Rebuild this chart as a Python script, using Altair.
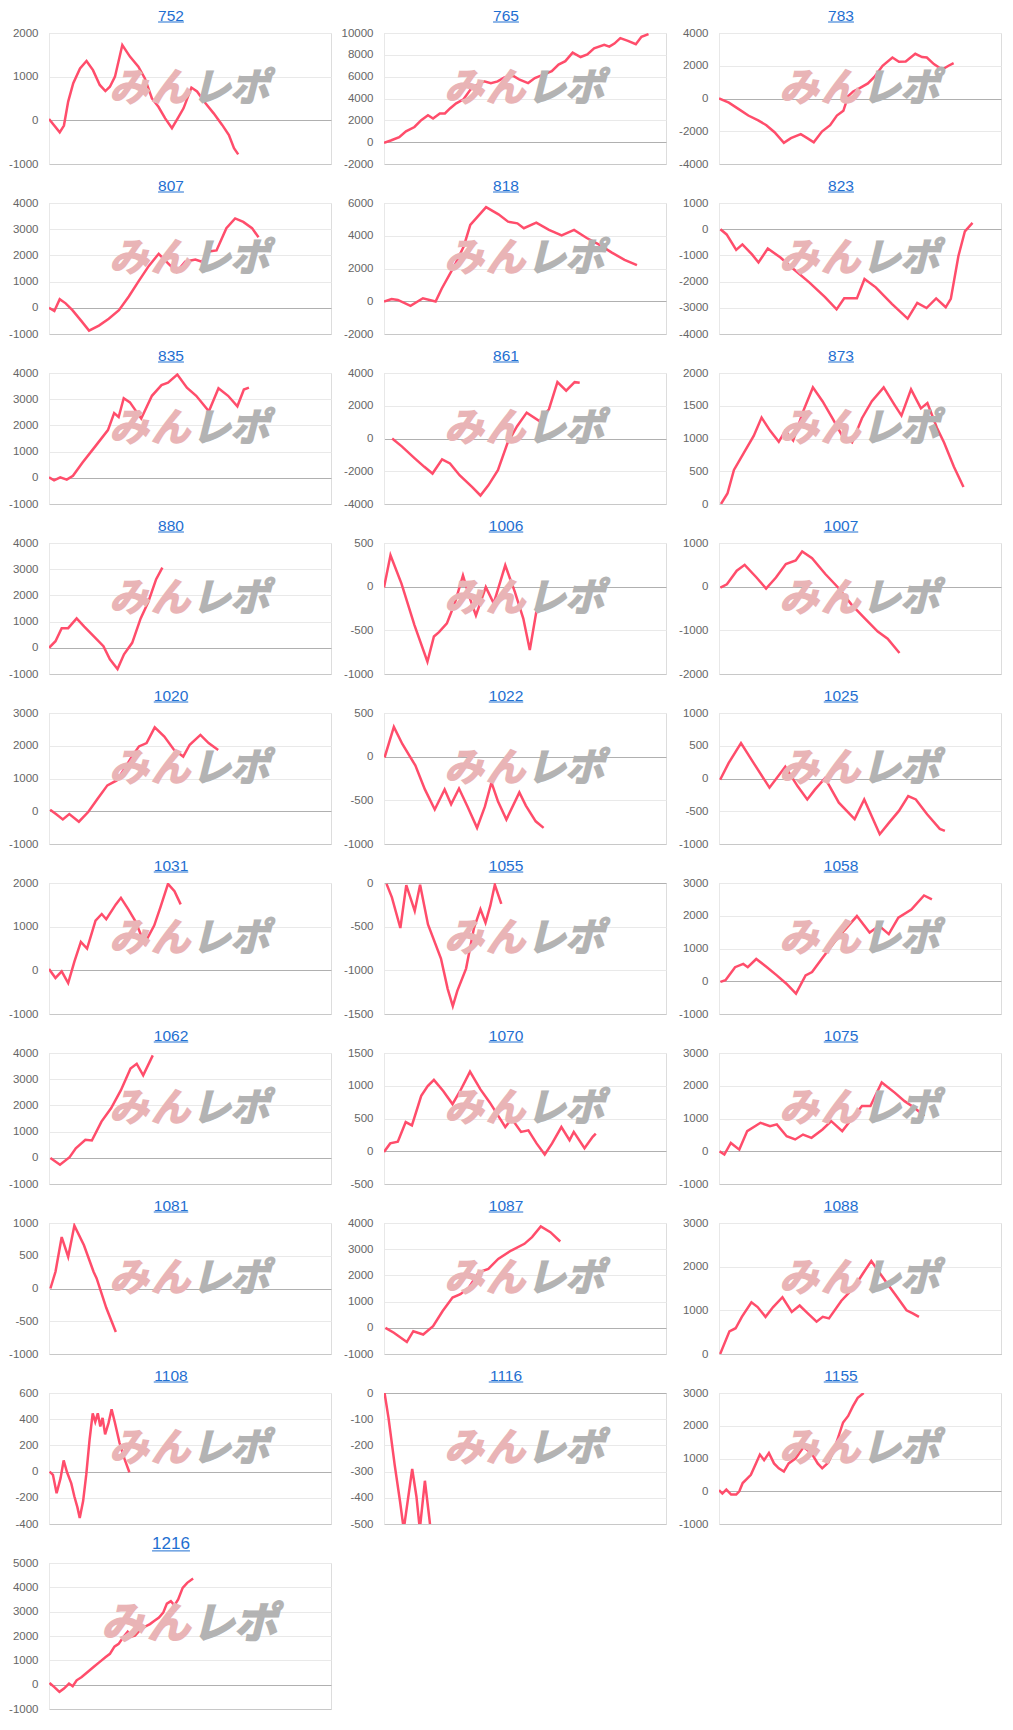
import altair as alt
import pandas as pd

# ---- series (x = share of the common run, 0-100; y = difference in coins) ----
X752 = [0,3.8,5.3,6.8,8.6,11,13.3,15.6,18,20,21.6,23.4,26,28.7,31.7,34,36.5,38.8,41.2,43.6,46,47.7,50.5,52.5,55.5,58.4,61.4,63.8,65.6,67.1]
Y752 = [30,-275,-120,430,850,1190,1360,1150,810,670,770,1000,1725,1460,1230,960,500,310,45,-180,85,275,750,660,390,160,-105,-335,-640,-780]
X765 = [0,2.4,5.4,7.8,10.8,13.2,15.6,17.4,19.8,21.6,23.4,25.6,28.2,30.6,33,35.5,37.9,40.3,42.7,45.7,48.1,51.1,53.5,56.5,59.5,61.9,64.3,66.9,69.7,72.1,74.5,78.1,79.9,81.7,83.8,86.5,89.3,91.3,93.8]
Y765 = [-60,150,460,990,1390,2010,2470,2160,2630,2630,3090,3560,3930,4790,5260,5570,5410,5570,5940,6090,5720,5410,5880,6190,6500,7110,7420,8200,7800,8040,8600,8910,8750,9030,9530,9280,8970,9650,9900]
X783 = [0,3.5,7,10.4,13.9,16.8,19.7,23,25.5,29,31.3,33.6,36.5,39.4,41.8,44.1,45.8,47.6,49.9,52.8,55.1,58,61.5,63.8,66.2,69.6,72,73.7,76.2,79.1,81.4,83.2]
Y783 = [0,-255,-650,-1040,-1340,-1630,-2060,-2710,-2420,-2180,-2420,-2670,-2020,-1630,-1040,-750,140,430,630,920,1320,2000,2500,2240,2260,2730,2530,2500,2100,1770,2000,2160]
X807 = [0,1.9,3.8,5.9,8.3,11.3,14.2,17.7,21.2,24.8,28.3,31.8,35.4,38.9,42.5,45.3,48.3,51.9,54.2,56.6,59.4,62.9,66,68.9,72,74.3]
Y807 = [0,-120,330,170,-90,-480,-870,-680,-420,-90,430,1020,1600,2060,1670,1370,1760,1840,1760,2150,2190,3040,3410,3280,3040,2690]
X818 = [0,2.7,4.9,9.4,13.8,18.3,20.5,25,28.3,30.6,36.2,40.6,44,47.3,49.6,54,58.5,63,67.4,71.9,76.3,80.8,85.3,89.7]
Y818 = [-20,140,80,-280,180,-20,780,2170,3360,4660,5750,5310,4860,4760,4460,4800,4360,4020,4360,3860,3460,2970,2530,2210]
X823 = [0.5,2.7,6.1,8.3,11.7,14,17.3,21.8,26.4,32,37.6,41.7,44.4,48.9,51.6,55.6,61.3,66.9,70.3,73.6,77,80.4,82.2,84.9,87.2,89.9]
Y823 = [0,-200,-790,-580,-960,-1270,-740,-1080,-1520,-2030,-2590,-3060,-2640,-2640,-1900,-2220,-2850,-3410,-2810,-3010,-2640,-2980,-2660,-1020,-80,240]
X835 = [0,1.8,4,6.3,8.5,11.9,16.4,20.9,23.1,24.7,26.5,28.7,32.7,36.5,39.9,42.2,45.5,48.9,52.2,56.7,60.1,63.5,66.8,69.1,70.9]
Y835 = [20,-100,20,-70,80,580,1200,1820,2470,2320,3040,2880,2260,3130,3540,3630,3940,3440,3130,2540,3420,3130,2730,3370,3440]
X861 = [2.9,6.3,10.9,14.3,17.2,20.6,23.4,26.8,31.3,34.2,37,40.4,43.8,47.2,50.6,55.1,58.5,61.5,64.6,67.6,69.4]
Y861 = [0,-480,-1210,-1730,-2140,-1270,-1520,-2240,-2970,-3480,-2860,-1930,-280,750,1580,1060,1790,3440,2920,3440,3400]
X873 = [0.7,3,5.3,8.8,12.3,15.1,18.1,21.2,23.5,26.3,29.8,33.3,36.7,40.2,43.7,47.2,50.7,54.2,58.4,62.3,64.7,68.1,71.6,73.9,77.4,79.8,83.3,86.7]
Y873 = [0,160,520,780,1040,1320,1120,950,1120,970,1410,1780,1570,1310,1040,940,1310,1570,1780,1510,1350,1750,1460,1540,1150,940,570,260]
X880 = [0,2.3,4.5,6.8,9.8,12.5,15.9,19.3,21.6,24.3,26.6,29.5,32.5,35.2,38,40.2]
Y880 = [0,250,750,750,1120,810,440,60,-440,-810,-250,190,1120,1750,2620,3060]
X1006 = [0,2.3,6.2,10.8,15.4,17.7,19.5,22.3,25.1,28,30.3,32.6,36.1,38.9,43,46.4,49.4,51.7,54,56.3]
Y1006 = [-10,360,35,-440,-860,-570,-520,-420,-190,130,-120,-330,-5,-190,245,-60,-365,-725,-290,-15]
X1007 = [0.5,2.8,6.3,9.1,13.3,16.7,20.2,23.7,27.2,29.5,33,37.7,42.3,47,51.6,56.3,59.8,64]
Y1007 = [-20,55,365,500,210,-45,210,520,600,805,650,290,-25,-410,-720,-1030,-1190,-1520]
X1020 = [0.4,2.7,4.9,7.2,10.6,13.9,17.3,20.7,24,26.3,29.2,31.9,34.6,37.5,40.9,44.3,47.6,49.9,53.7,56.6,60]
Y1020 = [45,-100,-250,-85,-320,-25,390,790,940,1240,1640,1980,2080,2560,2280,1880,1670,2030,2330,2080,1870]
X1022 = [0.2,3.5,6.5,11.1,14.5,18,21.5,23.8,26.6,29.6,33,35.8,38.1,40.4,43.4,48,50.3,53.8,56.6]
Y1022 = [-10,340,145,-100,-375,-605,-375,-545,-365,-570,-815,-570,-295,-510,-720,-410,-560,-740,-815]
X1025 = [0.4,3.4,7.8,12.3,17.9,23.5,27.9,31.3,34,37.6,42.5,48.1,51.5,57,60.4,63.8,67.1,69.8,73.8,78.3,80.1]
Y1025 = [-20,235,540,235,-140,180,-120,-320,-170,5,-370,-620,-320,-850,-670,-495,-270,-320,-545,-770,-800]
X1031 = [0,2.3,4.5,6.8,9,11.3,13.5,16.5,18.7,20.3,23.7,25.5,28.2,30.5,33.9,37.3,39.5,42.2,44.5,46.7]
Y1031 = [30,-175,-25,-290,200,650,500,1140,1290,1170,1510,1660,1390,1140,615,1025,1440,1980,1810,1510]
X1055 = [0.9,2.8,5.8,7.9,10.9,12.8,15.6,20.2,22.6,24.4,26,29.1,31.9,34.2,36,37.7,39.3,41.6]
Y1055 = [-10,-165,-515,-25,-320,-20,-475,-865,-1215,-1410,-1235,-980,-515,-300,-455,-260,-20,-240]
X1058 = [0.5,2.3,5.7,8.6,10.2,13.2,17,20.5,23.9,27.3,30.7,33,36.4,40.9,44.3,48.9,53.4,56.8,60.2,63.6,68.2,72.7,75.5]
Y1058 = [-20,30,430,530,430,680,430,180,-75,-375,180,280,680,1190,1540,1990,1490,1690,1440,1940,2190,2620,2500]
X1062 = [0.5,3.9,7.3,9.5,12.9,15.2,18.6,22,25.5,28.9,31.1,33.4,36.8]
Y1062 = [-10,-265,25,365,685,660,1380,1890,2580,3410,3590,3150,3910]
X1070 = [0,2.2,4.9,7.7,9.9,13.2,15.5,17.7,21,24.3,27,30.5,34.2,37.5,40.8,43,45.3,48.6,51.2,54.1,57,59.6,62.9,65.8,67.3,71.1,74,75.1]
Y1070 = [-10,120,145,445,395,845,995,1090,920,720,920,1215,945,745,520,370,495,295,320,120,-50,120,370,170,295,45,220,270]
X1075 = [0.2,1.9,4.2,7.2,10,14.7,18.1,20.5,24,27,29.8,32.8,36.7,39.8,43.7,47.2,50.7,53.7,57.7,62.3,65.8,69.3,72.8]
Y1075 = [0,-100,255,50,615,870,765,820,460,360,510,410,665,920,615,1000,1380,1380,2100,1790,1530,1330,1075]
X1081 = [0.5,2.3,4.5,6.8,9,12.4,15.8,16.9,20.3,23.7]
Y1081 = [0,255,785,485,960,660,255,155,-295,-665]
X1087 = [0.5,3.5,8.1,10.4,13.9,17.4,20.8,24.3,27.1,30.1,33.6,37,40.5,45.1,49.8,52.5,55.6,59,62.5]
Y1087 = [0,-190,-540,-130,-255,65,640,1155,1280,1540,2115,2245,2630,2950,3205,3460,3870,3650,3295]
X1088 = [0.4,3.7,5.9,8.1,11.5,13.7,16.5,19.2,22.5,25.8,28.6,31.3,34.6,36.8,39,43.4,47.8,51.1,54,56.6,59.9,63.2,66.5,68.7,70.9]
Y1088 = [0,520,590,850,1185,1075,850,1075,1300,965,1110,940,740,850,815,1220,1520,1850,2130,1890,1590,1300,1000,930,850]
X1108 = [0.2,1.4,2.7,4.1,5.2,6.4,7.9,9,10.1,10.9,12.1,13.2,14.4,15.5,16.4,17.3,18.2,19,19.9,21.1,22.2,23.3,25,26.8,28.5]
Y1108 = [0,-25,-165,-50,85,-5,-90,-190,-275,-355,-225,-25,245,445,380,445,345,410,285,370,475,380,220,95,-5]
X1116 = [0.2,1.6,3.8,5.7,7,10,11.5,12.7,14.5,16.1,16.7]
Y1116 = [0,-95,-275,-415,-520,-290,-395,-520,-335,-480,-540]
X1155 = [0,1.2,2.6,4.3,6.1,7.2,8.4,9.8,11.3,13.1,14.5,16,17.7,19.5,21.2,23,24.7,27.1,30,32.9,35,36.6,38.7,40.5,42.3,44,45.8,47.5,49.2,51.3]
Y1155 = [30,-70,50,-100,-100,0,250,370,500,850,1120,950,1170,850,700,600,850,1000,1350,1150,850,700,870,1200,1650,2100,2300,2600,2850,3000]
X1216 = [0.2,1.8,3.7,5.3,7.1,8.4,9.8,11.6,13.7,15.8,17.9,20,21.6,23.2,24.7,26.3,27.9,29.2,30.5,32.1,34,35.8,37.4,39,40.5,41.8,43.2,44.5,45.8,47.4,49,51.1]
Y1216 = [70,-90,-295,-160,45,-65,180,315,520,725,925,1130,1265,1565,1675,1945,2175,1975,2015,2215,2380,2490,2625,2760,2960,3330,3435,3260,3500,3980,4185,4360]

# machine number, x, y, axis min, axis max, gridline step
PANELS = [
    ("752", X752, Y752, -1000, 2000, 1000),
    ("765", X765, Y765, -2000, 10000, 2000),
    ("783", X783, Y783, -4000, 4000, 2000),
    ("807", X807, Y807, -1000, 4000, 1000),
    ("818", X818, Y818, -2000, 6000, 2000),
    ("823", X823, Y823, -4000, 1000, 1000),
    ("835", X835, Y835, -1000, 4000, 1000),
    ("861", X861, Y861, -4000, 4000, 2000),
    ("873", X873, Y873, 0, 2000, 500),
    ("880", X880, Y880, -1000, 4000, 1000),
    ("1006", X1006, Y1006, -1000, 500, 500),
    ("1007", X1007, Y1007, -2000, 1000, 1000),
    ("1020", X1020, Y1020, -1000, 3000, 1000),
    ("1022", X1022, Y1022, -1000, 500, 500),
    ("1025", X1025, Y1025, -1000, 1000, 500),
    ("1031", X1031, Y1031, -1000, 2000, 1000),
    ("1055", X1055, Y1055, -1500, 0, 500),
    ("1058", X1058, Y1058, -1000, 3000, 1000),
    ("1062", X1062, Y1062, -1000, 4000, 1000),
    ("1070", X1070, Y1070, -500, 1500, 500),
    ("1075", X1075, Y1075, -1000, 3000, 1000),
    ("1081", X1081, Y1081, -1000, 1000, 500),
    ("1087", X1087, Y1087, -1000, 4000, 1000),
    ("1088", X1088, Y1088, 0, 3000, 1000),
    ("1108", X1108, Y1108, -400, 600, 200),
    ("1116", X1116, Y1116, -500, 0, 100),
    ("1155", X1155, Y1155, -1000, 3000, 1000),
    ("1216", X1216, Y1216, -1000, 5000, 1000),
]

WATERMARK = ["み", "ん", "レ", "ポ"]

LINE = "#ff4d6b"
BLUE = "#1f6fd1"
PINK = "#e9b4b6"
GRAY = "#b3b3b3"
FONT = "Liberation Sans"
W, H = 282, 131


def panel(name, xs, ys, lo, hi, step, w, h, ts=1.0):
    assert len(xs) == len(ys), name
    df = pd.DataFrame({"x": xs, "y": ys})
    ticks = list(range(lo, hi + 1, step))
    xenc = alt.X("x:Q", scale=alt.Scale(domain=[0, 100], nice=False, zero=False),
                 axis=alt.Axis(labels=False, ticks=False, grid=False, domain=True,
                               domainColor="#c8c8c8", title=None))
    yenc = alt.Y("y:Q", scale=alt.Scale(domain=[lo, hi], nice=False, zero=False),
                 axis=alt.Axis(values=ticks, title=None, ticks=False, tickSize=0,
                               labelExpr="datum.value < 0 ? '-' + abs(datum.value) : '' + datum.value",
                               labelPadding=11, labelFont=FONT, labelFontSize=11.5,
                               labelColor="#666666", labelOverlap=False,
                               domain=True, domainColor="#e8e8e8",
                               gridColor=alt.condition("datum.value === 0",
                                                       alt.value("#b0b0b0"),
                                                       alt.value("#e9e9e9"))))
    line = alt.Chart(df).mark_line(color=LINE, strokeWidth=2.5, clip=True).encode(x=xenc, y=yenc)
    marks = []
    fx = [0.283, 0.431, 0.575, 0.712]
    cx = w * 0.5
    for ch, f in zip(WATERMARK, fx):
        col = PINK if ch in ("み", "ん") else GRAY
        marks.append(
            alt.Chart(pd.DataFrame({"c": [ch]})).mark_text(
                font="Noto Sans CJK JP", fontSize=39 * ts, fontWeight="bold",
                fontStyle="italic", color=col, stroke=col, strokeWidth=1.6 * ts,
                align="center", baseline="middle"
            ).encode(x=alt.value(cx + (f - 0.5) * W * ts), y=alt.value(0.425 * h), text="c:N")
        )
    tdf = pd.DataFrame({"t": [name]})
    tx = w / 2 - 19
    fs = 15.5 * ts
    title = alt.Chart(tdf).mark_text(font=FONT, fontSize=fs, color=BLUE,
                                     align="center", baseline="alphabetic").encode(
        x=alt.value(tx), y=alt.value(-12.5 * ts), text="t:N")
    tw = 0.556 * fs * len(name)
    ul = alt.Chart(tdf).mark_rule(color=BLUE, strokeWidth=1).encode(
        x=alt.value(tx - tw / 2), x2=alt.value(tx + tw / 2), y=alt.value(-11 * ts))
    return alt.layer(line, *marks, title, ul).properties(width=w, height=h)


charts = [panel(n, xs, ys, lo, hi, st, W, H) for (n, xs, ys, lo, hi, st) in PANELS[:27]]
n, xs, ys, lo, hi, st = PANELS[27]
charts.append(panel(n, xs, ys, lo, hi, st, W, 146, ts=1.1))

chart = alt.ConcatChart(
    concat=charts, columns=3, bounds="flush",
    spacing=alt.RowColnumber(row=39, column=53),
).properties(padding=0).configure_view(stroke=None).configure(background="white")

chart.save("out.html", embed_options={"renderer": "svg", "actions": False})
